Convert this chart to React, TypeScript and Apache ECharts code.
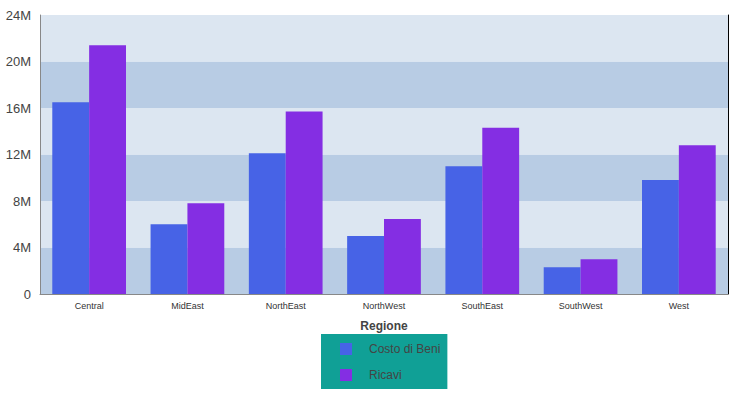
import React, { useEffect, useRef } from "react";
import * as echarts from "echarts";

const categories = ["Central", "MidEast", "NorthEast", "NorthWest", "SouthEast", "SouthWest", "West"];
const costoDiBeni = [16.5, 6.0, 12.1, 5.0, 11.0, 2.3, 9.8];
const ricavi = [21.4, 7.8, 15.7, 6.45, 14.3, 3.0, 12.8];
const seriesNames = ["Costo di Beni", "Ricavi"];
const axisName = "Regione";

export default function App() {
  const ref = useRef<HTMLDivElement>(null);
  useEffect(() => {
    const chart = echarts.init(ref.current!, null, { renderer: "svg" });
    const font = "'Liberation Sans', Arial, sans-serif";
    chart.setOption({
      animation: false,
      grid: { left: 40, right: 19, top: 15, bottom: 105 },
      legend: {
        orient: "vertical",
        left: 321,
        top: 334,
        backgroundColor: "#10a096",
        padding: [9, 7, 8, 19],
        itemWidth: 12,
        itemHeight: 12,
        itemGap: 14,
        icon: "rect",
        data: seriesNames,
        textStyle: {
          color: "#444",
          fontSize: 12,
          fontFamily: font,
          padding: [0, 0, 0, 12],
        },
      },
      xAxis: {
        type: "category",
        data: categories,
        name: axisName,
        nameLocation: "middle",
        nameGap: 26,
        nameTextStyle: { fontWeight: "bold", fontSize: 12, color: "#444", fontFamily: font },
        axisLine: { lineStyle: { color: "#888" } },
        axisTick: { show: false },
        axisLabel: { fontSize: 9, color: "#333", fontFamily: font, margin: 7 },
      },
      yAxis: [
        {
          type: "value",
          min: 0,
          max: 24,
          interval: 4,
          axisLine: { show: true, lineStyle: { color: "#888" } },
          axisTick: { show: false },
          splitLine: { show: false },
          splitArea: { show: true, areaStyle: { color: ["#b8cce4", "#dce6f1"] } },
          axisLabel: {
            fontSize: 13,
            color: "#444",
            fontFamily: font,
            margin: 9,
            formatter: (v: number) => (v === 0 ? "0" : v + "M"),
          },
        },
        {
          type: "value",
          position: "right",
          min: 0,
          max: 24,
          interval: 4,
          axisLine: { show: true, lineStyle: { color: "#000" } },
          axisTick: { show: false },
          axisLabel: { show: false },
          splitLine: { show: false },
        },
      ],
      series: [
        {
          name: seriesNames[0],
          type: "bar",
          data: costoDiBeni,
          itemStyle: { color: "#4763e6" },
          barGap: "0%",
          barCategoryGap: "25%",
        },
        {
          name: seriesNames[1],
          type: "bar",
          data: ricavi,
          itemStyle: { color: "#842ee3" },
          barGap: "0%",
          barCategoryGap: "25%",
        },
      ],
    });
    return () => chart.dispose();
  }, []);
  return <div ref={ref} style={{ width: 747, height: 399, position: "absolute", left: 0, top: 0 }} />;
}
